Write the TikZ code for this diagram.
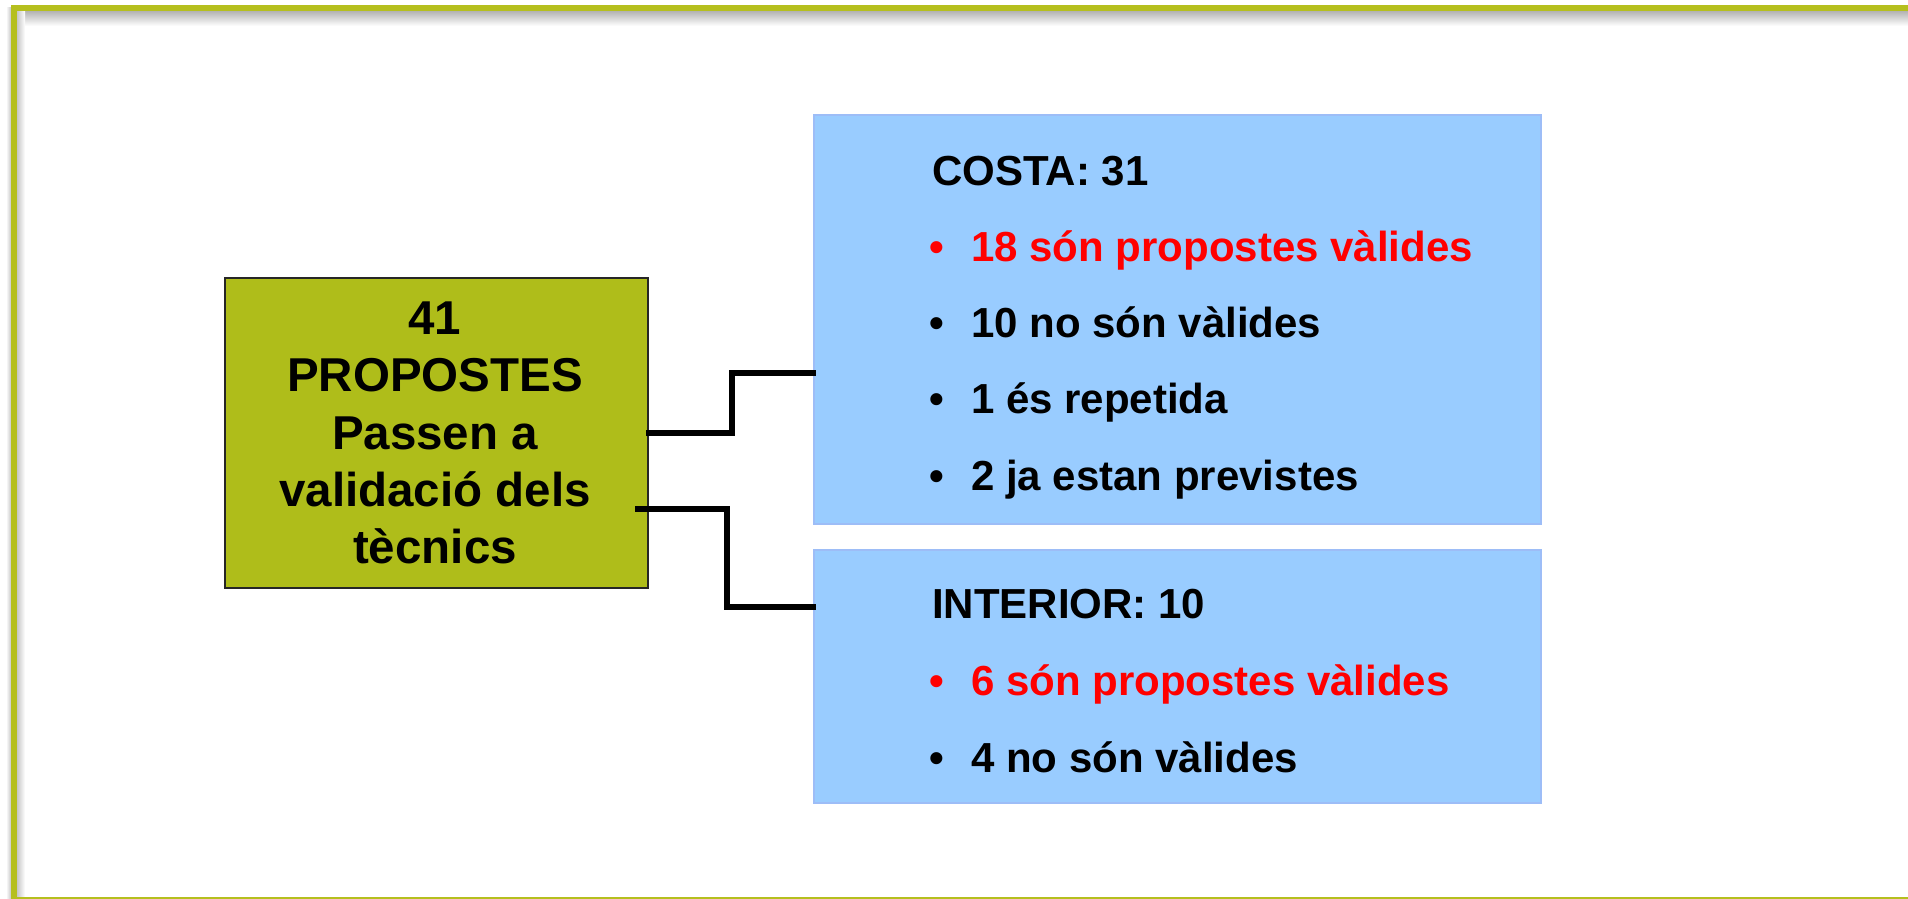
\documentclass[tikz,border=0pt]{standalone}
\usepackage{fontspec}
\setmainfont{Liberation Sans}
\definecolor{frameg}{HTML}{B5BF1E}
\definecolor{boxg}{HTML}{AFBD1A}
\definecolor{boxb}{HTML}{99CCFF}
\definecolor{boxbl}{HTML}{9DBDF7}
\definecolor{redt}{HTML}{FF0000}
\tikzset{
  greenbox/.style={draw=black!85, line width=1.5pt, fill=boxg, minimum width=423pt, minimum height=310pt, inner sep=0pt},
  bluebox/.style={draw=boxbl, line width=1.2pt, fill=boxb, minimum width=727pt, inner sep=0pt},
  conn/.style={draw=black, line width=5.2pt, line cap=rect},
  btxt/.style={anchor=base west, inner sep=0pt, font=\bfseries\fontsize{42}{42}\selectfont},
}
\begin{document}
\begin{tikzpicture}[x=1pt,y=-1pt]
\useasboundingbox (0,0) rectangle (1908,899);
\fill[white] (0,0) rectangle (1908,899);
% frame shadow
\fill[top color=black!30, bottom color=white] (17,11) rectangle (1908,26);
\fill[left color=black!22, right color=white] (17,11) rectangle (25,899);
\fill[left color=white, right color=black!22] (6,8) rectangle (11,899);
% frame
\draw[frameg, line width=6pt] (1916,8) -- (14,8) -- (14,900) -- (1916,900);
% boxes
\node[greenbox] (green) at (436.5,433) {};
\node[bluebox, minimum height=409pt] (costa) at (1177.5,319.5) {};
\node[bluebox, minimum height=253pt] (interior) at (1177.5,676.5) {};
% connectors
\coordinate (c1) at (732,433);
\coordinate (c2a) at (638,509);
\coordinate (c2) at (727,509);
\draw[conn] (green.east) -- (c1) |- (costa.west |- 0,373);
\draw[conn] (c2a) -- (c2) |- (interior.west |- 0,607);
% left text
\node[align=center, inner sep=0pt, font=\bfseries\fontsize{47.5}{57.3}\selectfont] (gtxt) at (435,433) {41\\PROPOSTES\\Passen a\\validació dels\\tècnics};
% costa text
\node[btxt] (ct) at (932,185) {COSTA: 31};
\node[btxt, text=redt] (cb1) at (929,261) {•};
\node[btxt, text=redt] (c1t) at (971,261) {18 són propostes vàlides};
\node[btxt] (cb2) at (929,337) {•};
\node[btxt] (c2t) at (971,337) {10 no són vàlides};
\node[btxt] (cb3) at (929,413) {•};
\node[btxt] (c3t) at (971,413) {1 és repetida};
\node[btxt] (cb4) at (929,490) {•};
\node[btxt] (c4t) at (971,490) {2 ja estan previstes};
% interior text
\node[btxt] (it) at (932,618) {INTERIOR: 10};
\node[btxt, text=redt] (ib1) at (929,695) {•};
\node[btxt, text=redt] (i1t) at (971,695) {6 són propostes vàlides};
\node[btxt] (ib2) at (929,772) {•};
\node[btxt] (i2t) at (971,772) {4 no són vàlides};
\end{tikzpicture}
\end{document}
